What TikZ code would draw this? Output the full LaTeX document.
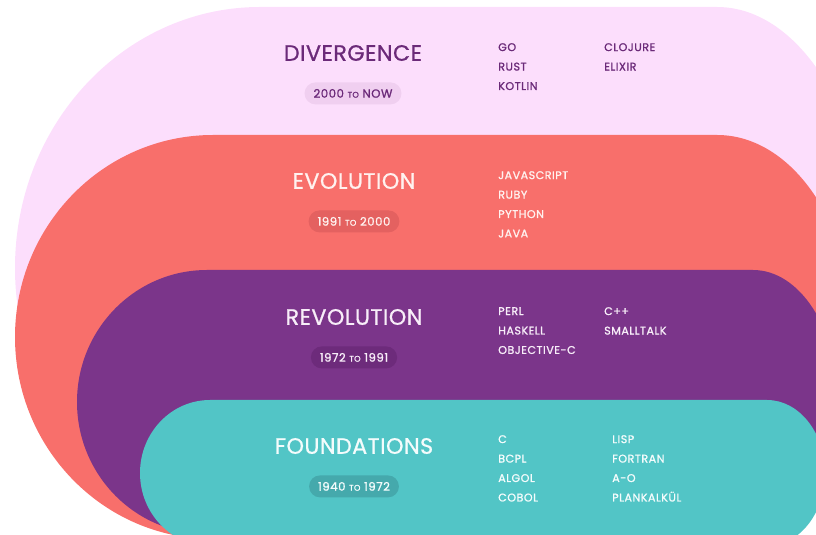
\documentclass[tikz,border=0pt]{standalone}
\usepackage{fontspec}
\setmainfont{Poppins}
\newfontfamily\headfont[LetterSpace=2,FakeBold=0.8]{Poppins}
\newfontfamily\langfont[LetterSpace=4.5,FakeBold=1.2]{Poppins}
\usetikzlibrary{positioning}

\definecolor{divfill}{HTML}{FCDEFC}
\definecolor{evofill}{HTML}{F86F6B}
\definecolor{revfill}{HTML}{7B358A}
\definecolor{fndfill}{HTML}{52C5C6}
\definecolor{divpill}{HTML}{F0CFF0}
\definecolor{evopill}{HTML}{E46160}
\definecolor{revpill}{HTML}{6D2B7B}
\definecolor{fndpill}{HTML}{45A9AC}
\definecolor{divtext}{HTML}{6B2A79}
\definecolor{evotext}{HTML}{FFF2F0}
\definecolor{revtext}{HTML}{F8EEF9}
\definecolor{fndtext}{HTML}{F4FCFC}

\newcommand{\yto}{{\fontsize{7}{7}\selectfont TO}}

\begin{document}
\begin{tikzpicture}[
  x=0.03cm,y=0.03cm,
  head/.style={font=\headfont\fontsize{19}{19}\selectfont,inner sep=0pt},
  pill/.style={rounded corners=3.3mm,minimum height=6.6mm,inner xsep=2.7mm,inner ysep=0pt,font=\langfont\fontsize{10}{10}\selectfont},
  lang/.style={font=\langfont\fontsize{9.5}{16.6}\selectfont,align=left,inner sep=0pt,anchor=north west},
]
\useasboundingbox (0,0) rectangle (816,535);

% nested eras, from the newest (outside) to the oldest (inside)
\begin{scope}
\clip (0,0) rectangle (816,535);
\fill[divfill] (260,528) -- (717,528) arc[start angle=90,end angle=-90,x radius=155,y radius=261]
  -- (260,6) arc[start angle=270,end angle=90,x radius=245,y radius=261] -- cycle;
\fill[evofill] (213,400) -- (717,400) arc[start angle=90,end angle=-90,x radius=137,y radius=202]
  -- (213,-4) arc[start angle=270,end angle=90,x radius=198,y radius=202] -- cycle;
\fill[revfill] (207,265) -- (753,265) arc[start angle=90,end angle=-90,x radius=85,y radius=132]
  -- (207,1) arc[start angle=270,end angle=90,x radius=130,y radius=132] -- cycle;
\fill[fndfill] (210,135) -- (767,135) arc[start angle=90,end angle=-90,x radius=58,y radius=73]
  -- (210,-11) arc[start angle=270,end angle=90,x radius=70,y radius=73] -- cycle;
\end{scope}

% divergence
\node[head,text=divtext] (div) at (353,482) {DIVERGENCE};
\node[pill,fill=divpill,text=divtext,below=6.3mm of div] (divyears) {2000 \yto{} NOW};
\node[lang,text=divtext] (divlangs) at (498,492) {GO\\RUST\\KOTLIN};
\node[lang,text=divtext] (divlangs2) at (604,492) {CLOJURE\\ELIXIR};

% evolution
\node[head,text=evotext] (evo) at (354,354) {EVOLUTION};
\node[pill,fill=evopill,text=evotext,below=6.3mm of evo] (evoyears) {1991 \yto{} 2000};
\node[lang,text=evotext] (evolangs) at (498,364) {JAVASCRIPT\\RUBY\\PYTHON\\JAVA};

% revolution
\node[head,text=revtext] (rev) at (354,218) {REVOLUTION};
\node[pill,fill=revpill,text=revtext,below=6.3mm of rev] (revyears) {1972 \yto{} 1991};
\node[lang,text=revtext] (revlangs) at (498,228) {PERL\\HASKELL\\OBJECTIVE-C};
\node[lang,text=revtext] (revlangs2) at (604,228) {C++\\SMALLTALK};

% foundations
\node[head,text=fndtext] (fnd) at (354,89) {FOUNDATIONS};
\node[pill,fill=fndpill,text=fndtext,below=6.3mm of fnd] (fndyears) {1940 \yto{} 1972};
\node[lang,text=fndtext] (fndlangs) at (498,100) {C\\BCPL\\ALGOL\\COBOL};
\node[lang,text=fndtext] (fndlangs2) at (612,100) {LISP\\FORTRAN\\A-O\\PLANKALKÜL};
\end{tikzpicture}
\end{document}
